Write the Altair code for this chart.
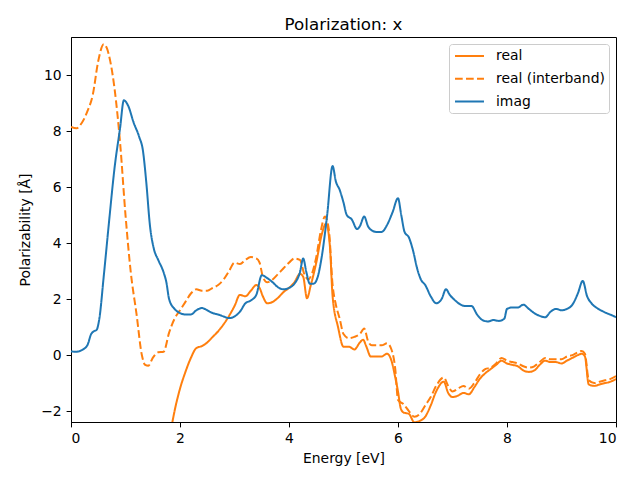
import altair as alt
import pandas as pd

# ---- data ----
imag_x = [0.0, 0.1, 0.2, 0.3, 0.37, 0.42, 0.47, 0.52, 0.6, 0.7, 0.8, 0.9, 0.97, 1.05, 1.15, 1.25, 1.32,
          1.38, 1.45, 1.52, 1.6, 1.7, 1.75, 1.8, 1.9, 2.0, 2.1, 2.2, 2.3, 2.4, 2.5, 2.6, 2.7, 2.8, 2.9,
          3.0, 3.1, 3.2, 3.3, 3.4, 3.5, 3.6, 3.7, 3.8, 3.9, 4.0, 4.1, 4.2, 4.26, 4.32, 4.38, 4.45, 4.52,
          4.6, 4.7, 4.8, 4.86, 4.93, 5.0, 5.06, 5.15, 5.25, 5.3, 5.38, 5.45, 5.52, 5.6, 5.7, 5.8, 5.9,
          6.0, 6.06, 6.12, 6.2, 6.28, 6.35, 6.42, 6.5, 6.6, 6.7, 6.8, 6.88, 6.95, 7.05, 7.15, 7.25, 7.35,
          7.45, 7.55, 7.65, 7.75, 7.85, 7.95, 8.0, 8.1, 8.2, 8.3, 8.4, 8.5, 8.6, 8.7, 8.8, 8.9, 9.0, 9.1,
          9.2, 9.3, 9.39, 9.47, 9.55, 9.65, 9.75, 9.85, 9.95, 10.0]
imag_y = [0.13, 0.12, 0.18, 0.35, 0.75, 0.85, 0.9, 1.3, 2.8, 4.8, 6.7, 8.1, 9.1, 8.9, 8.3, 7.8, 7.3,
          6.2, 4.6, 3.8, 3.4, 2.95, 2.6, 2.0, 1.65, 1.5, 1.45, 1.45, 1.6, 1.68, 1.6, 1.5, 1.45, 1.38, 1.32,
          1.38, 1.55, 1.85, 1.95, 2.15, 2.85, 2.75, 2.6, 2.42, 2.35, 2.4, 2.55, 2.95, 3.45, 2.95, 2.55, 2.55, 2.75,
          3.5, 5.0, 6.75, 6.2, 5.9, 5.45, 5.0, 4.85, 4.5, 4.6, 4.95, 4.6, 4.45, 4.4, 4.4, 4.65, 5.1,
          5.6, 5.0, 4.4, 4.2, 3.7, 3.1, 2.7, 2.5, 2.1, 1.85, 2.0, 2.35, 2.15, 1.95, 1.8, 1.75, 1.75,
          1.45, 1.25, 1.2, 1.25, 1.22, 1.3, 1.65, 1.7, 1.7, 1.8, 1.65, 1.5, 1.4, 1.35, 1.55, 1.65, 1.6, 1.65,
          1.8, 2.2, 2.65, 2.1, 1.85, 1.68, 1.57, 1.48, 1.4, 1.35]

inter_x = [0.0, 0.1, 0.2, 0.3, 0.4, 0.5, 0.6, 0.66, 0.72, 0.8, 0.9, 1.0, 1.1, 1.2, 1.3, 1.36, 1.42, 1.5,
           1.6, 1.7, 1.8, 1.9, 2.0, 2.1, 2.2, 2.3, 2.4, 2.5, 2.6, 2.7, 2.8, 2.9, 3.0, 3.1, 3.2, 3.3, 3.4,
           3.46, 3.52, 3.6, 3.7, 3.8, 3.9, 4.0, 4.1, 4.2, 4.28, 4.35, 4.42, 4.5, 4.58, 4.66, 4.73, 4.8,
           4.86, 4.93, 5.0, 5.1, 5.2, 5.3, 5.38, 5.45, 5.52, 5.6, 5.7, 5.8, 5.88, 5.95, 6.0, 6.1, 6.2,
           6.3, 6.4, 6.5, 6.6, 6.7, 6.84, 6.92, 7.0, 7.1, 7.2, 7.3, 7.4, 7.5, 7.6, 7.7, 7.8, 7.9, 8.0,
           8.1, 8.2, 8.3, 8.4, 8.5, 8.6, 8.7, 8.8, 8.9, 9.0, 9.1, 9.2, 9.3, 9.37, 9.43, 9.5, 9.6, 9.7,
           9.8, 9.9, 10.0]
inter_y = [8.15, 8.1, 8.3, 8.7, 9.3, 10.5, 11.1, 10.95, 10.5, 9.5, 7.6, 5.0, 2.9, 1.5, 0.0, -0.35, -0.38, -0.1,
           0.1, 0.12, 0.8, 1.3, 1.6, 1.9, 2.2, 2.35, 2.3, 2.3, 2.4, 2.5, 2.7, 3.0, 3.3, 3.25, 3.4, 3.5, 3.45,
           3.3, 2.8, 2.6, 2.7, 2.9, 3.1, 3.3, 3.45, 3.4, 2.9, 2.7, 2.9, 3.5, 4.4, 4.95, 4.5, 2.5,
           1.8, 1.3, 0.75, 0.6, 0.65, 0.75, 0.95, 0.5, 0.35, 0.35, 0.35, 0.42, 0.2, -0.5, -1.6, -1.75, -2.0,
           -2.2, -2.1, -1.8, -1.5, -1.1, -0.8, -1.1, -1.3, -1.2, -1.1, -1.2, -1.0, -0.7, -0.5, -0.45, -0.3, -0.1, -0.2,
           -0.25, -0.3, -0.4, -0.45, -0.4, -0.25, -0.1, -0.15, -0.15, -0.15, -0.05, 0.0, 0.1, 0.15, 0.05, -0.9, -1.0, -0.95,
           -0.9, -0.85, -0.75]

real_x = [1.75, 1.85, 1.9, 2.0, 2.1, 2.2, 2.3, 2.4, 2.5, 2.6, 2.7, 2.8, 2.9, 3.0, 3.1, 3.2, 3.3, 3.4,
          3.46, 3.52, 3.6, 3.7, 3.8, 3.9, 4.0, 4.1, 4.2, 4.26, 4.33, 4.4, 4.5, 4.6, 4.68, 4.75, 4.8,
          4.9, 5.0, 5.1, 5.2, 5.3, 5.36, 5.42, 5.5, 5.6, 5.7, 5.8, 5.88, 5.95, 6.0, 6.05, 6.1, 6.2,
          6.3, 6.4, 6.5, 6.6, 6.7, 6.84, 6.92, 7.0, 7.1, 7.2, 7.3, 7.4, 7.5, 7.6, 7.7, 7.8, 7.9, 8.0,
          8.1, 8.2, 8.3, 8.4, 8.5, 8.6, 8.7, 8.8, 8.9, 9.0, 9.1, 9.2, 9.3, 9.37, 9.43, 9.5, 9.6, 9.7,
          9.8, 9.9, 10.0]
real_y = [-3.6, -2.5, -2.0, -1.2, -0.6, -0.1, 0.25, 0.32, 0.45, 0.65, 0.85, 1.1, 1.4, 1.75, 2.15, 2.1, 2.3, 2.5,
          2.4, 2.1, 1.85, 1.9, 2.05, 2.25, 2.4, 2.6, 2.9, 2.8, 2.03, 2.5, 3.3, 4.3, 4.7, 3.9, 2.1,
          1.0, 0.3, 0.3, 0.2, 0.45, 0.55, 0.3, -0.05, -0.05, -0.05, 0.05, -0.2, -0.8, -1.3, -1.9, -2.05, -2.1,
          -2.4, -2.35, -2.2, -1.8, -1.3, -0.95, -1.35, -1.5, -1.45, -1.35, -1.4, -1.15, -0.85, -0.65, -0.5, -0.35, -0.2, -0.3,
          -0.35, -0.4, -0.55, -0.6, -0.55, -0.35, -0.2, -0.25, -0.25, -0.3, -0.2, -0.1, 0.0, 0.05, -0.05, -1.05, -1.1, -1.05,
          -1.0, -0.95, -0.85]

series_names = ["real", "real (interband)", "imag"]
series_colors = ["#ff7f0e", "#ff7f0e", "#1f77b4"]
series_dashes = [[1, 0], [7.7, 3.3], [1, 0]]

rows = []
for name, xs, ys in [("real", real_x, real_y), ("real (interband)", inter_x, inter_y), ("imag", imag_x, imag_y)]:
    for i, (x, y) in enumerate(zip(xs, ys)):
        rows.append({"series": name, "Energy": x, "value": y, "order": i})
df = pd.DataFrame(rows)

FONT = "DejaVu Sans"

chart = alt.Chart(df).mark_line(interpolate="monotone", strokeWidth=2, clip=True).encode(
    x=alt.X("Energy:Q", title="Energy [eV]",
            scale=alt.Scale(domain=[0, 10], nice=False, zero=False),
            axis=alt.Axis(values=[0, 2, 4, 6, 8, 10], grid=False, tickSize=4.9, labelPadding=4.9,
                          titlePadding=6, domainColor="black", tickColor="black")),
    y=alt.Y("value:Q", title="Polarizability [Å]",
            scale=alt.Scale(domain=[-2.39, 11.36], nice=False, zero=False),
            axis=alt.Axis(values=[-2, 0, 2, 4, 6, 8, 10], grid=False, tickSize=4.9, labelPadding=4.9,
                          titlePadding=8, domainColor="black", tickColor="black")),
    color=alt.Color("series:N", title=None,
                    scale=alt.Scale(domain=series_names, range=series_colors),
                    sort=series_names),
    strokeDash=alt.StrokeDash("series:N", title=None,
                              scale=alt.Scale(domain=series_names, range=series_dashes),
                              sort=series_names),
    detail="series:N",
    order="order:Q",
).properties(
    width=545, height=385,
    title=alt.TitleParams("Polarization: x", fontSize=16.7, font=FONT, fontWeight="normal",
                          offset=3, color="black"),
    autosize=alt.AutoSizeParams(type="none"),
    padding={"left": 63, "top": 29, "right": 16, "bottom": 50},
).configure_view(
    stroke="black", strokeWidth=1
).configure_axis(
    labelFont=FONT, titleFont=FONT, labelFontSize=13.9, titleFontSize=13.9,
    titleFontWeight="normal", labelColor="black", titleColor="black"
).configure_legend(
    orient="top-right", offset=7, padding=4, rowPadding=7.8, cornerRadius=3,
    strokeColor="#cccccc", fillColor="rgba(255,255,255,0.8)",
    labelFont=FONT, labelFontSize=13.9, labelColor="black",
    symbolType="M-2.07,0L2.07,0", symbolSize=196, symbolStrokeWidth=2,
    symbolOffset=8.5, labelOffset=18.5,
)

chart.save("out.html", embed_options={"renderer": "svg", "actions": False})
